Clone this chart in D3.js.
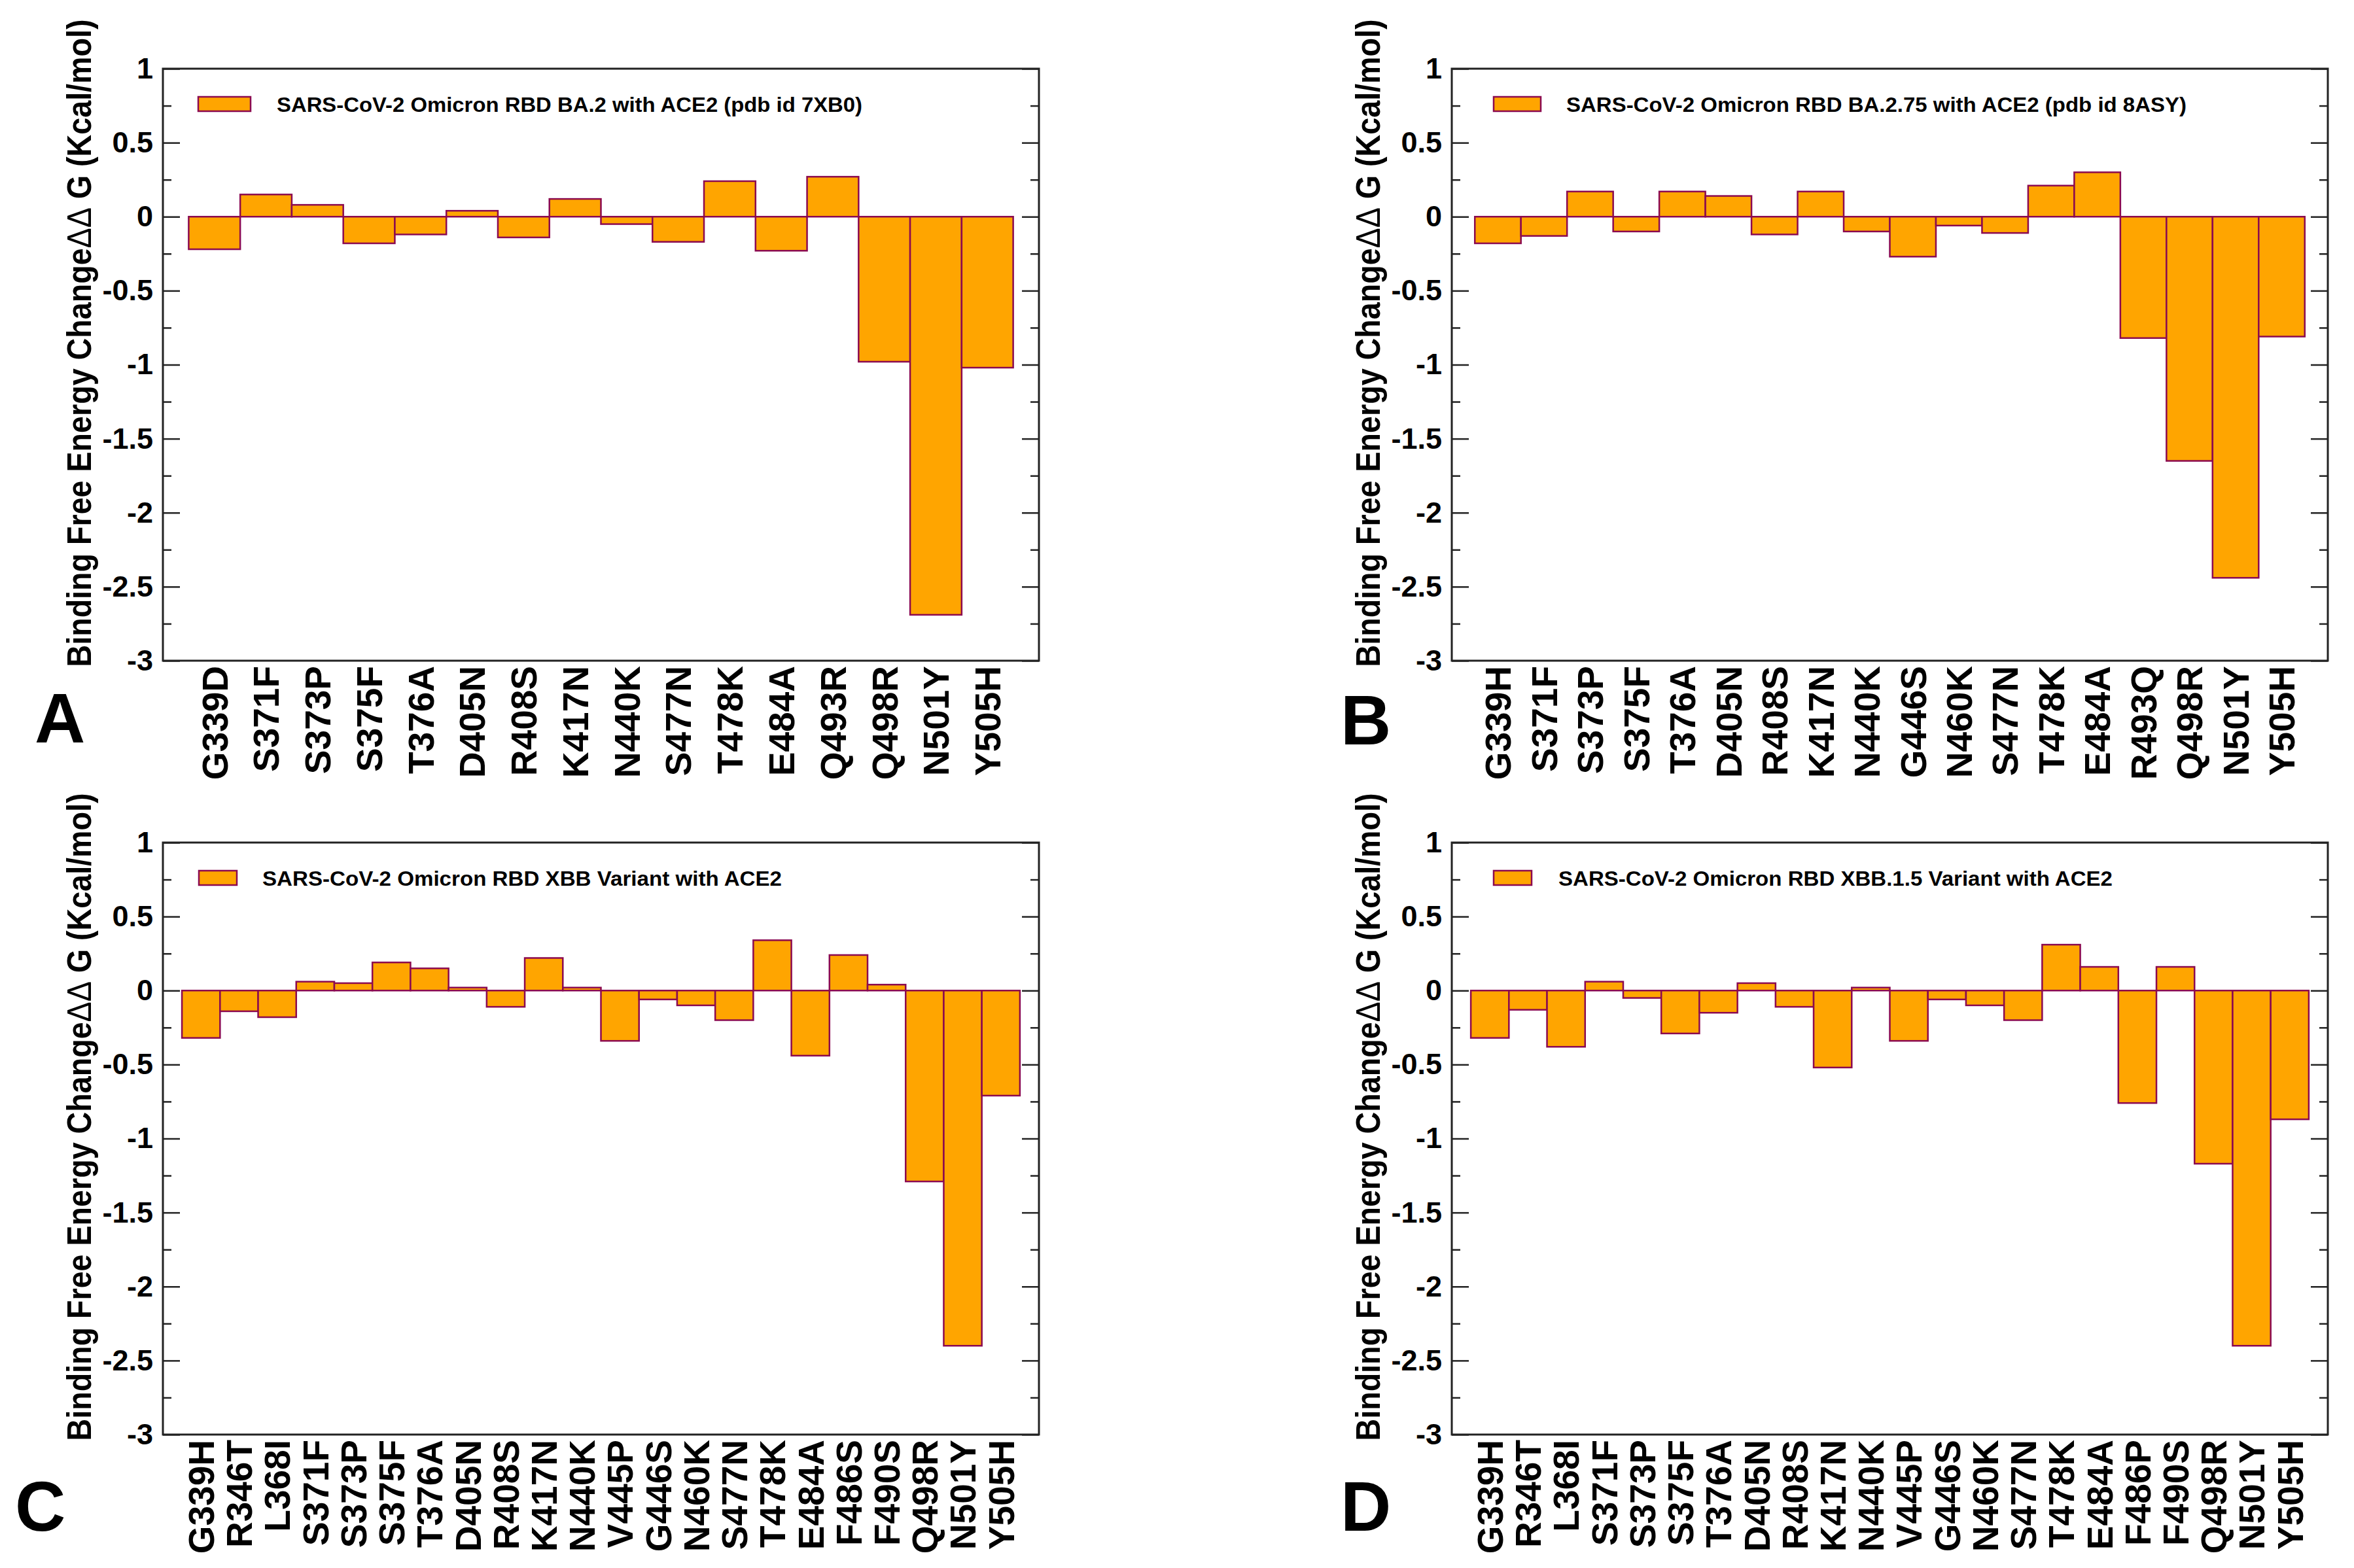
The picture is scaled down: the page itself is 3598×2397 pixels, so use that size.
<!DOCTYPE html>
<html>
  <head>
    <meta charset="UTF-8" />
    <script src="https://cdn.jsdelivr.net/npm/d3@7"></script>
    <title>Binding free energy change</title>
    <style type="text/css">
      body { margin: 0; background: #fff; }
      text { font-family: "Liberation Sans", Arial, sans-serif; font-weight: bold; fill: #000; }
    </style>
  </head>
  <body>
    <div id="chartcontainer"></div>
    <script>
      // mutations and ddG values (kcal/mol)
      const labelsA = ["G339D", "S371F", "S373P", "S375F", "T376A", "D405N", "R408S", "K417N",
        "N440K", "S477N", "T478K", "E484A", "Q493R", "Q498R", "N501Y", "Y505H"];
      const valuesA = [-0.22, 0.15, 0.08, -0.18, -0.12, 0.04, -0.14, 0.12,
        -0.05, -0.17, 0.24, -0.23, 0.27, -0.98, -2.69, -1.02];

      const labelsB = ["G339H", "S371F", "S373P", "S375F", "T376A", "D405N", "R408S", "K417N",
        "N440K", "G446S", "N460K", "S477N", "T478K", "E484A", "R493Q", "Q498R", "N501Y", "Y505H"];
      const valuesB = [-0.18, -0.13, 0.17, -0.10, 0.17, 0.14, -0.12, 0.17,
        -0.10, -0.27, -0.06, -0.11, 0.21, 0.30, -0.82, -1.65, -2.44, -0.81];

      const labelsC = ["G339H", "R346T", "L368I", "S371F", "S373P", "S375F", "T376A", "D405N",
        "R408S", "K417N", "N440K", "V445P", "G446S", "N460K", "S477N", "T478K", "E484A",
        "F486S", "F490S", "Q498R", "N501Y", "Y505H"];
      const valuesC = [-0.32, -0.14, -0.18, 0.06, 0.05, 0.19, 0.15, 0.02,
        -0.11, 0.22, 0.02, -0.34, -0.06, -0.10, -0.20, 0.34, -0.44,
        0.24, 0.04, -1.29, -2.40, -0.71];

      const labelsD = ["G339H", "R346T", "L368I", "S371F", "S373P", "S375F", "T376A", "D405N",
        "R408S", "K417N", "N440K", "V445P", "G446S", "N460K", "S477N", "T478K", "E484A",
        "F486P", "F490S", "Q498R", "N501Y", "Y505H"];
      const valuesD = [-0.32, -0.13, -0.38, 0.06, -0.05, -0.29, -0.15, 0.05,
        -0.11, -0.52, 0.02, -0.34, -0.06, -0.10, -0.20, 0.31, 0.16,
        -0.76, 0.16, -1.17, -2.40, -0.87];

      const legendA = "SARS-CoV-2 Omicron RBD BA.2 with ACE2 (pdb id 7XB0)";
      const legendB = "SARS-CoV-2 Omicron RBD BA.2.75 with ACE2 (pdb id 8ASY)";
      const legendC = "SARS-CoV-2 Omicron RBD XBB Variant with ACE2";
      const legendD = "SARS-CoV-2 Omicron RBD XBB.1.5 Variant with ACE2";

      const yMajor = [1, 0.5, 0, -0.5, -1, -1.5, -2, -2.5, -3];
      const yMinor = [0.75, 0.25, -0.25, -0.75, -1.25, -1.75, -2.25, -2.75];
      const yTitleParts = ["Binding Free Energy Change", "\u0394\u0394", " G (Kcal/mol)"];

      const W = 3598, H = 2397;
      const pw = 1339, ph = 905; // frame size
      const fillCol = "#ffa500", strokeCol = "#8b0a50";

      const panels = [
        { letter: "A", labels: labelsA, values: valuesA, legend: legendA, x: 249, y: 105,
          lx: 53, ly: 1135, box: [54, 80], tx: 174, tl: 895 },
        { letter: "B", labels: labelsB, values: valuesB, legend: legendB, x: 2219, y: 105,
          lx: 2049, ly: 1138, box: [64, 72], tx: 175, tl: 948 },
        { letter: "C", labels: labelsC, values: valuesC, legend: legendC, x: 249, y: 1288,
          lx: 23, ly: 2340, box: [55, 58], tx: 152, tl: 794 },
        { letter: "D", labels: labelsD, values: valuesD, legend: legendD, x: 2219, y: 1288,
          lx: 2049, ly: 2340, box: [64, 58], tx: 163, tl: 847 },
      ];

      const svg = d3.select("#chartcontainer").append("svg")
        .attr("width", W).attr("height", H);
      svg.append("rect").attr("width", W).attr("height", H).attr("fill", "#fff");

      panels.forEach(function (p) {
        const g = svg.append("g").attr("transform", "translate(" + p.x + "," + p.y + ")");

        const x = d3.scaleBand().domain(p.labels).range([0, pw])
          .paddingInner(0).paddingOuter(0.5);
        const y = d3.scaleLinear().domain([-3, 1]).range([ph, 0]);

        // bars
        g.selectAll("rect.bar").data(p.values).enter().append("rect")
          .attr("class", "bar")
          .attr("x", function (d, i) { return x(p.labels[i]); })
          .attr("width", x.bandwidth())
          .attr("y", function (d) { return y(Math.max(0, d)); })
          .attr("height", function (d) { return Math.abs(y(d) - y(0)); })
          .attr("fill", fillCol)
          .attr("stroke", strokeCol)
          .attr("stroke-width", 2.5);

        // y ticks, left and right, pointing inward
        g.append("g").call(d3.axisLeft(y).tickValues(yMajor).tickSize(-26).tickPadding(15)
          .tickFormat(function (d) { return String(d); }));
        g.append("g").call(d3.axisLeft(y).tickValues(yMinor).tickSize(-13).tickFormat(""));
        g.append("g").attr("transform", "translate(" + pw + ",0)")
          .call(d3.axisRight(y).tickValues(yMajor).tickSize(-26).tickFormat(""));
        g.append("g").attr("transform", "translate(" + pw + ",0)")
          .call(d3.axisRight(y).tickValues(yMinor).tickSize(-13).tickFormat(""));

        // x labels, rotated
        const xa = g.append("g").attr("transform", "translate(0," + ph + ")")
          .call(d3.axisBottom(x).tickSize(0));
        xa.selectAll("text")
          .attr("x", -8).attr("y", 0).attr("dy", "0.36em")
          .attr("text-anchor", "end")
          .attr("transform", "rotate(-90)")
          .style("font-size", "55px");

        g.selectAll(".domain").remove();
        g.selectAll(".tick line").attr("stroke", "#222").attr("stroke-width", 2.5);
        g.selectAll(".tick text").style("font-family", "'Liberation Sans', Arial, sans-serif")
          .style("font-weight", "bold");
        g.selectAll("g.tick text").filter(function () { return !this.getAttribute("transform"); })
          .style("font-size", "45px");

        // frame
        g.append("rect").attr("width", pw).attr("height", ph)
          .attr("fill", "none").attr("stroke", "#222").attr("stroke-width", 3);

        // legend
        g.append("rect").attr("x", p.box[0]).attr("y", 43)
          .attr("width", p.box[1]).attr("height", 22)
          .attr("fill", fillCol).attr("stroke", strokeCol).attr("stroke-width", 2.5);
        g.append("text").attr("x", p.tx).attr("y", 54).attr("dy", "0.36em")
          .attr("textLength", p.tl).attr("lengthAdjust", "spacingAndGlyphs")
          .style("font-size", "32px").text(p.legend);

        // y title
        const t = g.append("text")
          .attr("transform", "translate(-110," + (ph / 2 - 33) + ") rotate(-90) scale(1,1.1)")
          .attr("text-anchor", "middle")
          .attr("textLength", 990).attr("lengthAdjust", "spacingAndGlyphs")
          .style("font-size", "47px");
        t.selectAll("tspan").data(yTitleParts).enter().append("tspan")
          .style("font-weight", function (d, i) { return i === 1 ? "normal" : "bold"; })
          .text(function (d) { return d; });

        // panel letter
        svg.append("text").attr("x", p.lx).attr("y", p.ly)
          .style("font-size", "107px").text(p.letter);
      });
    </script>
  </body>
</html>
